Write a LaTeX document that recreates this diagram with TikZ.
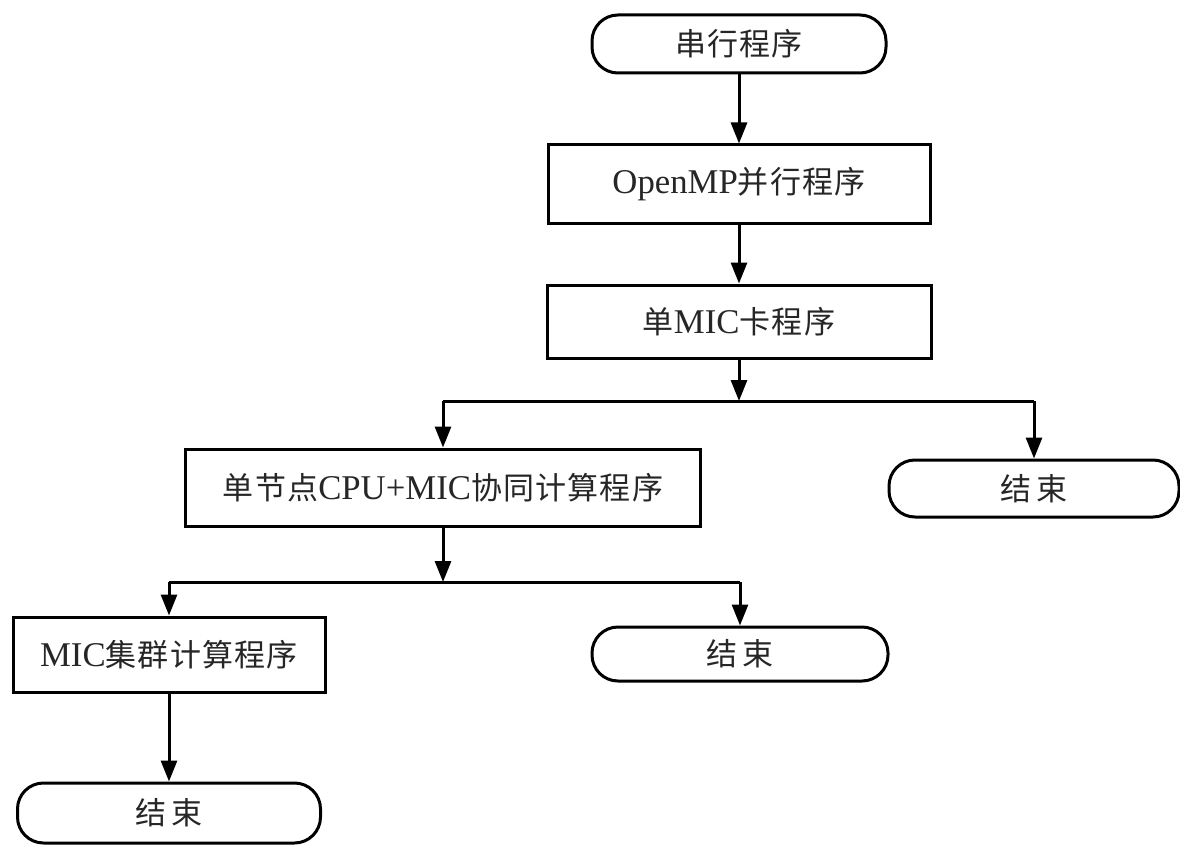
\documentclass[tikz,border=0pt]{standalone}
\usepackage{fontspec}
\setmainfont{Liberation Serif}[Scale=1.12]
\newfontfamily\cjk{Noto Sans CJK SC}[LetterSpace=4]
\usetikzlibrary{arrows.meta}
\begin{document}
\begin{tikzpicture}[x=1pt,y=-1pt,
  every node/.style={font=\fontsize{31}{36}\selectfont, text=black!85, inner sep=0pt},
  procbox/.style={draw, line width=3pt, rectangle},
  term/.style={draw, line width=3pt, rectangle, rounded corners=26pt},
  link/.style={line width=3pt},
  arr/.style={line width=3pt, -{Triangle[length=21pt,width=16pt]}}
]
\useasboundingbox (0,0) rectangle (1180,845);
\node[term, minimum width=294pt, minimum height=58pt] (start) at (739,44) {\cjk 串行程序};
\node[procbox, minimum width=382pt, minimum height=78pt] (omp) at (739,184) {OpenMP{\cjk 并行程序}};
\node[procbox, minimum width=384pt, minimum height=73pt] (mic) at (739,321.5) {{\cjk 单}MIC{\cjk 卡程序}};
\node[procbox, minimum width=515pt, minimum height=77pt] (cpu) at (443,487.5) {{\cjk 单节点}CPU+MIC{\cjk 协同计算程序}};
\node[term, minimum width=290pt, minimum height=57pt] (end1) at (1034,488.5) {\cjk 结\hspace{6pt}束};
\node[procbox, minimum width=312pt, minimum height=75pt] (clu) at (169,654.5) {MIC{\cjk 集群计算程序}};
\node[term, minimum width=296pt, minimum height=54pt] (end2) at (740,654) {\cjk 结\hspace{6pt}束};
\node[term, minimum width=303pt, minimum height=60pt] (end3) at (169,813) {\cjk 结\hspace{6pt}束};
\coordinate (j1) at (739,401);
\coordinate (j2) at (443,582);
\draw[arr] (start) -- (omp);
\draw[arr] (omp) -- (mic);
\draw[arr] (mic) -- (j1);
\draw[link] (cpu.north |- j1) -- (end1.north |- j1);
\draw[arr] (cpu.north |- j1) -- (cpu.north);
\draw[arr] (end1.north |- j1) -- (end1.north);
\draw[arr] (cpu) -- (j2);
\draw[link] (clu.north |- j2) -- (end2.north |- j2);
\draw[arr] (clu.north |- j2) -- (clu.north);
\draw[arr] (end2.north |- j2) -- (end2.north);
\draw[arr] (clu) -- (end3);
\end{tikzpicture}
\end{document}
